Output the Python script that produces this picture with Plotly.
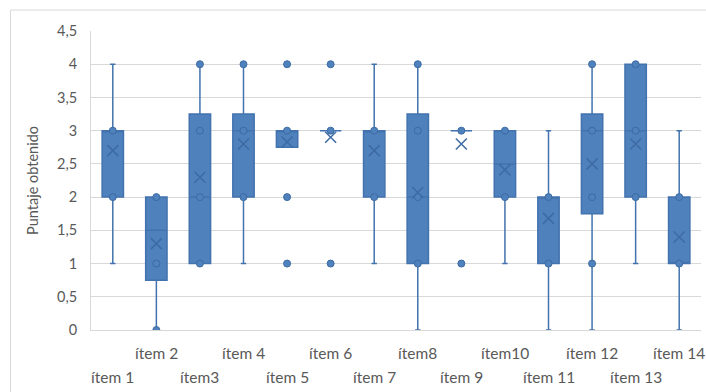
import plotly.graph_objects as go

items = ["ítem 1", "ítem 2", "ítem3", "ítem 4", "ítem 5", "ítem 6", "ítem 7",
         "ítem8", "ítem 9", "ítem10", "ítem 11", "ítem 12", "ítem 13", "ítem 14"]
q1 = [2, 0.75, 1, 2, 2.75, 3, 2, 1, 3, 2, 1, 1.75, 2, 1]
median = [3, 1.5, 2, 3, 3, 3, 3, 2, 3, 2.5, 2, 3, 3, 1]
q3 = [3, 2, 3.25, 3.25, 3, 3, 3, 3.25, 3, 3, 2, 3.25, 4, 2]
lower_whisker = [1, 0, 1, 1, 2.75, 3, 1, 0, 3, 1, 0, 0, 1, 0]
upper_whisker = [4, 2, 4, 4, 3, 3, 4, 4, 3, 3, 3, 4, 4, 3]
means = [2.7, 1.3, 2.3, 2.8, 2.83, 2.9, 2.7, 2.07, 2.8, 2.41, 1.68, 2.5, 2.8, 1.4]
points = [
    [2, 3], [0, 1, 2], [1, 2, 3, 4], [2, 3, 4], [1, 2, 3, 4], [1, 3, 4], [2, 3],
    [1, 2, 3, 4], [1, 3], [2, 3], [1, 2], [1, 2, 3, 4], [2, 3, 4], [1, 2],
]
y_ticks = [0, 0.5, 1, 1.5, 2, 2.5, 3, 3.5, 4, 4.5]
y_tick_labels = ["0", "0,5", "1", "1,5", "2", "2,5", "3", "3,5", "4", "4,5"]

FILL = "#4F81BD"
LINE = "#4373AE"
DARK = "#3D6BA3"
GRID = "#D9D9D9"
TXT = "#595959"
FONT = "Lato"

fig = go.Figure()
fig.add_trace(go.Box(
    x=items, q1=q1, median=median, q3=q3,
    lowerfence=lower_whisker, upperfence=upper_whisker,
    boxpoints=False, fillcolor=FILL,
    line=dict(color=LINE, width=1.5),
    width=0.49, whiskerwidth=0.25, hoverinfo="skip",
))

px_x, px_y = [], []
for it, pts in zip(items, points):
    for v in pts:
        px_x.append(it)
        px_y.append(v)
fig.add_trace(go.Scatter(
    x=px_x, y=px_y, mode="markers",
    marker=dict(symbol="circle", size=7, color=FILL, line=dict(color=DARK, width=1)),
    hoverinfo="skip",
))
fig.add_trace(go.Scatter(
    x=items, y=means, mode="markers",
    marker=dict(symbol="x-thin-open", size=11, color=DARK, line=dict(color=DARK, width=1.5)),
    hoverinfo="skip",
))

# staggered category labels
for i, it in enumerate(items):
    fig.add_annotation(
        x=it, xref="x", y=(-0.077 if i % 2 == 1 else -0.157), yref="paper",
        text=it, showarrow=False, xanchor="center", yanchor="middle",
        font=dict(family=FONT, size=15.5, color=TXT),
    )

fig.add_shape(type="rect", xref="paper", yref="paper",
              x0=-0.132, x1=1.05, y0=-0.4, y1=1.07,
              line=dict(color=GRID, width=1), fillcolor="rgba(0,0,0,0)", layer="below")

fig.update_layout(
    width=706, height=392,
    margin=dict(l=91, r=5, t=31, b=62),
    paper_bgcolor="white", plot_bgcolor="white",
    showlegend=False, hovermode=False,
    font=dict(family=FONT, size=14, color=TXT),
    xaxis=dict(
        type="category", categoryorder="array", categoryarray=items,
        range=[-0.5, 13.5], showticklabels=False, showgrid=False,
        showline=True, linecolor=GRID, linewidth=1, ticks="", zeroline=False,
    ),
    yaxis=dict(
        range=[0, 4.5], tickvals=y_ticks, ticktext=y_tick_labels,
        showgrid=True, gridcolor=GRID, gridwidth=1,
        showline=True, linecolor=GRID, linewidth=1, zeroline=False,
        ticks="", ticklabelstandoff=10,
        tickfont=dict(family=FONT, size=14.5, color=TXT),
        title=dict(text="Puntaje obtenido", standoff=14,
                   font=dict(family=FONT, size=14.5, color=TXT)),
    ),
)

fig.write_html("out.html")
